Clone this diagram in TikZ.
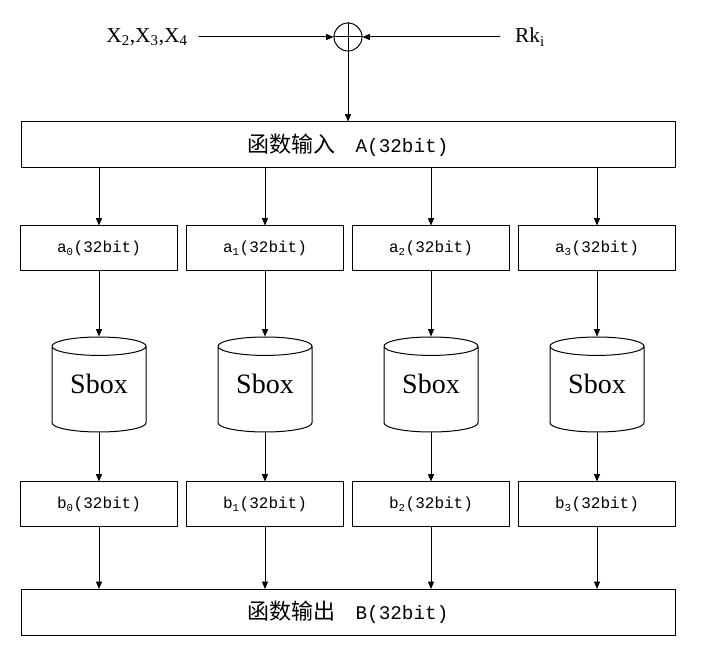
\documentclass[tikz,border=0pt]{standalone}
\usepackage{fontspec}
\setmainfont{Liberation Serif}
\setmonofont{Liberation Mono}
\newfontfamily\cjk{Noto Sans CJK SC}
\usetikzlibrary{arrows.meta}
\usetikzlibrary{shapes.geometric}
\tikzset{
  arr/.style={-{Triangle[length=5.5pt,width=4.5pt]},line width=0.75pt},
  widebox/.style={draw,line width=0.75pt,minimum width=490.5pt,minimum height=34.5pt,inner sep=0pt},
  bitbox/.style={draw,line width=0.75pt,minimum width=117.75pt,minimum height=33.75pt,inner sep=0pt,font=\ttfamily\fontsize{12}{14}\selectfont},
  sbox/.style={draw,cylinder,shape border rotate=90,aspect=0.32,line width=0.75pt,minimum width=70.5pt,minimum height=71.25pt,inner sep=0pt,anchor=shape center,font=\fontsize{21}{24}\selectfont}
}
\begin{document}
\begin{tikzpicture}[line cap=round,line join=round,x=0.75pt,y=-0.75pt]
\useasboundingbox (0,0) rectangle (701,649);
% xor of the inputs with the round key
\node[draw,circle,line width=0.75pt,minimum size=21pt,inner sep=0pt] (xor) at (348,37) {};
\draw[line width=0.75pt] (xor.north) -- (xor.south) (xor.west) -- (xor.east);
\node[font=\fontsize{16}{18}\selectfont] (xin) at (147,37) {X\textsubscript{2},X\textsubscript{3},X\textsubscript{4}};
\node[font=\fontsize{16}{18}\selectfont] (rk) at (530,37) {Rk\textsubscript{i}};
\draw[arr] ([xshift=5pt]xin.east) -- (xor.west);
\draw[arr] ([xshift=-8pt]rk.west) -- (xor.east);
% function input / output
\node[widebox] (in) at (348,145) {{\cjk\fontsize{16.5}{18}\selectfont 函数输入}\hspace{15pt}{\ttfamily\fontsize{14.5}{18}\selectfont A(32bit)}};
\node[widebox] (out) at (348,612.5) {{\cjk\fontsize{16.5}{18}\selectfont 函数输出}\hspace{15pt}{\ttfamily\fontsize{14.5}{18}\selectfont B(32bit)}};
\draw[arr] (xor.south) -- (in.north);
% the four columns
\foreach \i in {0,1,2,3}{
  \node[bitbox] (a\i) at ({99+166*\i},248.5) {a\textsubscript{\i}(32bit)};
  \node[sbox] (s\i) at ({99+166*\i},384.5) {\raisebox{4pt}[\height][\depth]{Sbox}};
  \node[bitbox] (b\i) at ({99+166*\i},504.5) {b\textsubscript{\i}(32bit)};
  \draw[arr] (a\i |- in.south) -- (a\i.north);
  \draw[arr] (a\i.south) -- (a\i.south |- s\i.north);
  \draw[arr] (b\i.north |- s\i.south) -- (b\i.north);
  \draw[arr] (b\i.south) -- (b\i |- out.north);
}
\end{tikzpicture}
\end{document}
